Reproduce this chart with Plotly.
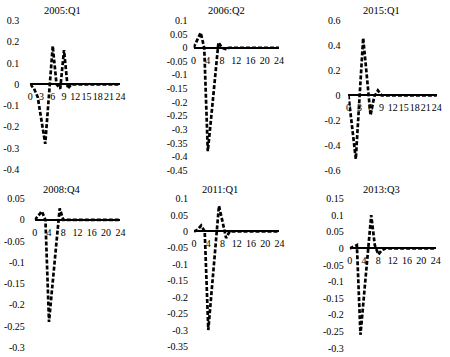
import plotly.graph_objects as go

# ---------------- data ----------------
horizon = list(range(25))

titles = ["2005:Q1", "2006:Q2", "2015:Q1", "2008:Q4", "2011:Q1", "2013:Q3"]

s2005 = [0, -0.02, -0.06, -0.17, -0.28, -0.05, 0.18, 0.0, -0.02, 0.16, -0.02] + [0] * 14
s2006 = [0, 0.027, 0.055, 0.0, -0.38, -0.25, -0.12, 0.02, 0.0, -0.005, 0] + [0] * 14
s2015 = [0, -0.25, -0.51, -0.02, 0.46, 0.15, -0.16, -0.01, 0.04, 0.0, 0] + [0] * 14
s2008 = [0, 0.01, 0.02, 0.0, -0.24, -0.15, -0.06, 0.027, 0.0, 0, 0] + [0] * 14
s2011 = [0, 0.005, 0.018, 0.0, -0.30, -0.17, -0.05, 0.078, 0.03, -0.02, 0] + [0] * 14
s2013 = [0, 0.005, 0.01, -0.26, -0.14, -0.02, 0.10, 0.01, -0.018, -0.005, 0] + [0] * 14

series = [s2005, s2006, s2015, s2008, s2011, s2013]

x_ticks_3 = [0, 3, 6, 9, 12, 15, 18, 21, 24]
x_ticks_4 = [0, 4, 8, 12, 16, 20, 24]
x_tick_vals = [x_ticks_3, x_ticks_4, x_ticks_3, x_ticks_4, x_ticks_4, x_ticks_4]
x_labels_3 = ["0", "3", "6", "9", "12", "15", "18", "21", "24"]
x_labels_4 = ["0", "4", "8", "12", "16", "20", "24"]
x_tick_text = [x_labels_3, x_labels_4, x_labels_3, x_labels_4, x_labels_4, x_labels_4]

y_tick_vals = [
    [0.3, 0.2, 0.1, 0, -0.1, -0.2, -0.3, -0.4],
    [0.1, 0.05, 0, -0.05, -0.1, -0.15, -0.2, -0.25, -0.3, -0.35, -0.4, -0.45],
    [0.6, 0.4, 0.2, 0, -0.2, -0.4, -0.6],
    [0.05, 0, -0.05, -0.1, -0.15, -0.2, -0.25, -0.3],
    [0.1, 0.05, 0, -0.05, -0.1, -0.15, -0.2, -0.25, -0.3, -0.35],
    [0.15, 0.1, 0.05, 0, -0.05, -0.1, -0.15, -0.2, -0.25, -0.3],
]
y_tick_text = [
    ["0.3", "0.2", "0.1", "0", "-0.1", "-0.2", "-0.3", "-0.4"],
    ["0.1", "0.05", "0", "-0.05", "-0.1", "-0.15", "-0.2", "-0.25", "-0.3", "-0.35", "-0.4", "-0.45"],
    ["0.6", "0.4", "0.2", "0", "-0.2", "-0.4", "-0.6"],
    ["0.05", "0", "-0.05", "-0.1", "-0.15", "-0.2", "-0.25", "-0.3"],
    ["0.1", "0.05", "0", "-0.05", "-0.1", "-0.15", "-0.2", "-0.25", "-0.3", "-0.35"],
    ["0.15", "0.1", "0.05", "0", "-0.05", "-0.1", "-0.15", "-0.2", "-0.25", "-0.3"],
]

# ---------------- layout (pixel geometry) ----------------
W, H = 450, 357
px_x = [(27.7, 119.5), (194.0, 281.0), (351.7, 441.7), (32.3, 119.5), (194.5, 281.5), (353.0, 440.5)]
px_y = [(15.0, 169.0), (15.0, 170.0), (15.0, 170.0), (199.3, 353.3), (199.3, 352.3), (199.3, 354.0)]
label_gap = [12, 7, 9, 11, 7, 7]
title_pos = [(61, 5), (228, 5), (385, 5), (60, 189.5), (221, 189.5), (385, 189.5)]

FONT = dict(family="Liberation Serif, Times New Roman, serif", size=10, color="black")
TITLE_FONT = dict(family="Liberation Serif, Times New Roman, serif", size=10.5, color="black")

fig = go.Figure()
layout = dict(
    width=W, height=H, margin=dict(l=0, r=0, t=0, b=0, pad=0),
    paper_bgcolor="white", plot_bgcolor="white", showlegend=False, font=FONT,
)
annotations = []

for i in range(6):
    k = "" if i == 0 else str(i + 1)
    xa, ya = "x" + k, "y" + k
    fig.add_trace(go.Scatter(
        x=horizon, y=series[i], xaxis=xa, yaxis=ya, mode="lines",
        line=dict(color="black", width=2.7, dash="4px,2px"),
        cliponaxis=False, hoverinfo="skip",
    ))
    x0, x1 = px_x[i]
    yt, yb = px_y[i]
    ymin, ymax = y_tick_vals[i][-1], y_tick_vals[i][0]
    dom_y = [1 - yb / H, 1 - yt / H]
    zero_pos = dom_y[0] + (0 - ymin) / (ymax - ymin) * (dom_y[1] - dom_y[0])
    layout["xaxis" + k] = dict(
        domain=[x0 / W, x1 / W], range=[0, 24], anchor="free", position=zero_pos,
        showline=True, linecolor="black", linewidth=2, showgrid=False, zeroline=False,
        tickmode="array", tickvals=x_tick_vals[i], ticktext=x_tick_text[i],
        ticks="", tickangle=0, ticklabelstandoff=3, tickfont=FONT, fixedrange=True,
    )
    layout["yaxis" + k] = dict(
        domain=dom_y, range=[ymin, ymax], anchor=xa,
        showline=False, showgrid=False, zeroline=False,
        tickmode="array", tickvals=y_tick_vals[i], ticktext=y_tick_text[i],
        ticks="", ticklabelstandoff=label_gap[i] - 2, tickfont=FONT, fixedrange=True,
    )
    tx, ty = title_pos[i]
    annotations.append(dict(
        text=titles[i], x=tx / W, y=1 - ty / H, xref="paper", yref="paper",
        xanchor="center", yanchor="middle", showarrow=False, font=TITLE_FONT,
    ))

layout["annotations"] = annotations
fig.update_layout(**layout)
fig.write_html(
    "out.html",
    config={"displayModeBar": False},
    post_script="document.body.style.margin='0';document.body.style.padding='0';",
)
